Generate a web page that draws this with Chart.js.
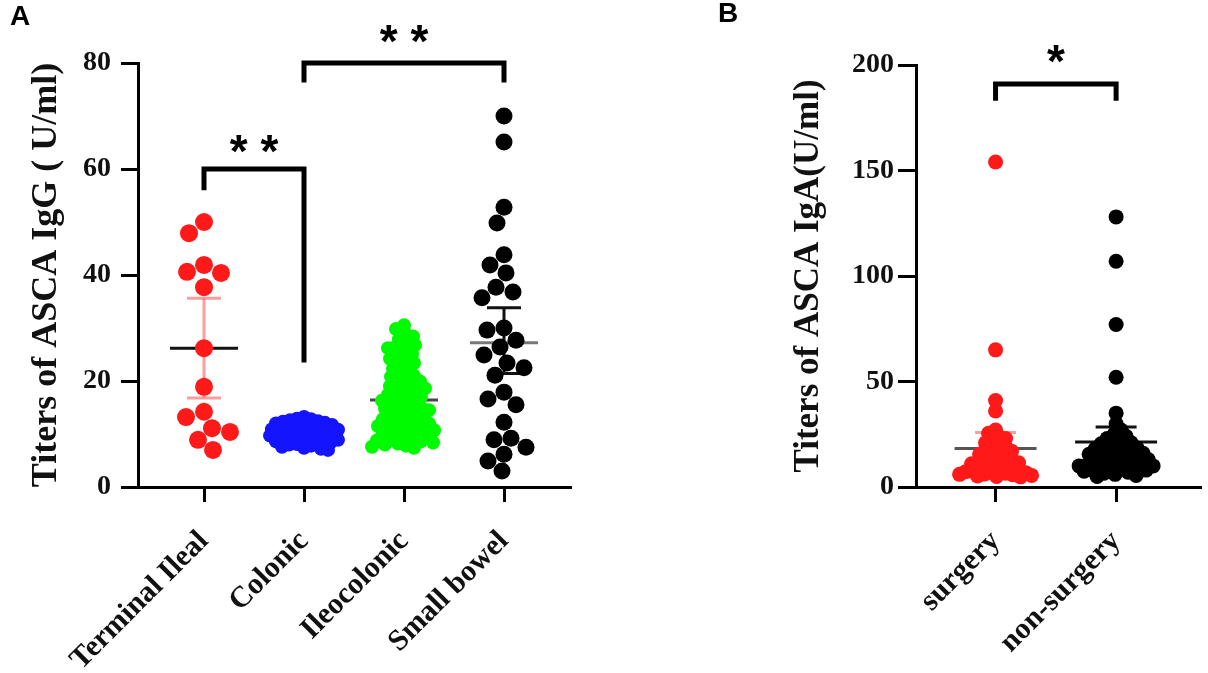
<!DOCTYPE html>
<html>
<head>
<meta charset="utf-8">
<script src="https://cdn.jsdelivr.net/npm/chart.js@4.4.1/dist/chart.umd.min.js"></script>
<style>
  html, body { margin: 0; padding: 0; background: #fff; }
  #wrap { position: relative; width: 1208px; height: 673px; overflow: hidden; }
  canvas { position: absolute; top: 0; }
  #chartA { left: 0; }
  #chartB { left: 600px; }
  .panel { position: absolute; font: bold 28px "Liberation Sans", Arial, sans-serif; color: #000; }
</style>
</head>
<body>
<div id="wrap">
  <canvas id="chartA" width="600" height="673"></canvas>
  <canvas id="chartB" width="608" height="673"></canvas>
  <div class="panel" style="left:10px; top:0px">A</div>
  <div class="panel" style="left:718px; top:-3px">B</div>
</div>
<script>
// values, panel A (ASCA IgG by location)
const groupsA = ['Terminal Ileal', 'Colonic', 'Ileocolonic', 'Small bowel'];
const terminalIleal = [50.0, 47.9, 41.9, 40.6, 40.4, 37.7, 26.2, 18.9, 14.2, 13.2, 11.1, 10.4, 8.9, 7.0];
const colonic = [13.2, 12.9, 12.8, 12.6, 12.4, 12.3, 12.1, 12.0, 11.8, 11.7, 11.5, 11.4, 11.2, 11.1, 11.0,
  10.9, 10.8, 10.6, 10.5, 10.4, 10.3, 10.2, 10.1, 10.0, 9.9, 9.8, 9.7, 9.5, 9.4, 9.3, 9.2, 9.0, 8.9, 8.8,
  8.6, 8.5, 8.3, 8.1, 8.0, 7.8, 7.6, 7.4, 7.2, 7.0];
const ileocolonic = [30.5, 29.8, 29.0, 28.4, 27.9, 27.3, 26.8, 26.5, 26.2, 25.6, 25.0, 24.5, 24.2, 24.0,
  23.4, 22.8, 22.3, 21.8, 21.3, 21.0, 20.8, 20.3, 19.9, 19.5, 19.2, 19.0, 18.6, 18.2, 18.0, 17.8, 17.4,
  17.0, 16.8, 16.6, 16.3, 15.9, 15.5, 15.2, 15.0, 14.8, 14.5, 14.1, 13.8, 13.5, 13.3, 13.1, 12.8, 12.5,
  12.2, 12.0, 11.9, 11.6, 11.5, 11.3, 11.0, 10.7, 10.5, 10.4, 10.1, 9.9, 9.6, 9.3, 9.1, 9.0, 8.8, 8.6,
  8.4, 8.2, 8.0, 7.8, 7.6, 7.4];
const smallBowel = [70.0, 65.1, 52.8, 49.8, 43.8, 41.9, 40.4, 37.7, 36.8, 35.7, 30.0, 29.6, 27.7, 26.4,
  24.9, 23.4, 22.5, 21.1, 17.9, 16.6, 15.5, 12.2, 9.2, 8.9, 7.5, 6.2, 4.9, 3.0];
const meanA = [26.2, 10.4, 16.4, 27.2];
const errLowA = [16.8, 9.6, 14.6, 21.4];
const errHighA = [35.6, 11.2, 18.2, 33.8];
const ticksA = [0, 20, 40, 60, 80];

// panel B (ASCA IgA, surgery vs non-surgery)
const groupsB = ['surgery', 'non-surgery'];
const surgery = [154, 65, 41, 36, 27, 25.5, 24, 23, 22, 21, 20, 19, 18, 17.5, 17, 16, 15.5, 15, 14, 13.5,
  13, 12.5, 12, 11.5, 11, 10.5, 10, 9.5, 9, 8.5, 8, 7.8, 7.5, 7.2, 7, 6.8, 6.5, 6.2, 6, 5.8, 5.5, 5.2, 5, 4.8];
const nonSurgery = [128, 107, 77, 52, 35, 30, 27, 25, 24, 23, 22, 21, 20.5, 20, 19, 18.5, 18, 17.5, 17,
  16.5, 16, 15.5, 15, 14.5, 14, 13.5, 13, 12.5, 12, 11.5, 11, 11, 10.5, 10, 10, 9.5, 9, 9, 8.5, 8, 8, 7.5,
  7, 6.5, 6, 5.5, 5];
const meanB = [18.2, 21.3];
const errLowB = [10.6, 14.2];
const errHighB = [25.8, 28.4];
const ticksB = [0, 50, 100, 150, 200];

// significance brackets (data units)
const bracketsA = [
  { from: 1, to: 2, top: 60, leftEnd: 56.0, rightEnd: 23.5, text: '* *', textY: 64.8 },
  { from: 2, to: 4, top: 80, leftEnd: 76.3, rightEnd: 76.3, text: '* *', textY: 85.4 }
];
const bracketsB = [
  { from: 1, to: 2, top: 191, leftEnd: 183, rightEnd: 183, text: '*', textY: 205 }
];

const SERIF = '"Liberation Serif", "Times New Roman", serif';

function strokeLine(ctx, x1, y1, x2, y2) {
  ctx.beginPath();
  ctx.moveTo(x1, y1);
  ctx.lineTo(x2, y2);
  ctx.stroke();
}

// mean line + error bar under the dots
function meanErrPlugin(means, lows, highs, styles) {
  return {
    id: 'meanErr',
    beforeDatasetsDraw(chart) {
      const ctx = chart.ctx, xs = chart.scales.x, ys = chart.scales.y;
      means.forEach((m, i) => {
        const c = i + 1, st = styles[i];
        const cx = xs.getPixelForValue(c);
        ctx.save();
        ctx.lineWidth = 3;
        ctx.strokeStyle = st.err;
        strokeLine(ctx, cx, ys.getPixelForValue(lows[i]), cx, ys.getPixelForValue(highs[i]));
        [lows[i], highs[i]].forEach(v => {
          const py = ys.getPixelForValue(v);
          strokeLine(ctx, xs.getPixelForValue(c - 0.17), py, xs.getPixelForValue(c + 0.17), py);
        });
        ctx.strokeStyle = st.mean;
        const my = ys.getPixelForValue(m);
        strokeLine(ctx, xs.getPixelForValue(c - 0.34), my, xs.getPixelForValue(c + 0.34), my);
        ctx.restore();
      });
    }
  };
}

function bracketPlugin(brackets, starSize) {
  return {
    id: 'brackets',
    afterDraw(chart) {
      const ctx = chart.ctx, xs = chart.scales.x, ys = chart.scales.y;
      brackets.forEach(b => {
        const x1 = xs.getPixelForValue(b.from), x2 = xs.getPixelForValue(b.to);
        const yt = ys.getPixelForValue(b.top);
        ctx.save();
        ctx.strokeStyle = '#000';
        ctx.lineWidth = 5;
        ctx.lineCap = 'butt';
        ctx.lineJoin = 'miter';
        ctx.beginPath();
        ctx.moveTo(x1, ys.getPixelForValue(b.leftEnd));
        ctx.lineTo(x1, yt);
        ctx.lineTo(x2, yt);
        ctx.lineTo(x2, ys.getPixelForValue(b.rightEnd));
        ctx.stroke();
        ctx.fillStyle = '#000';
        ctx.font = 'bold ' + starSize + 'px "Liberation Sans", Arial, sans-serif';
        ctx.textAlign = 'center';
        ctx.textBaseline = 'alphabetic';
        const m = ctx.measureText(b.text);
        const cy = ys.getPixelForValue(b.textY);
        ctx.fillText(b.text, (x1 + x2) / 2, cy + (m.actualBoundingBoxAscent - m.actualBoundingBoxDescent) / 2);
        ctx.restore();
      });
    }
  };
}

// spread the dots sideways so they don't pile up (beeswarm-ish)
function swarm(chart, dsIndex, minDist, maxHalf) {
  const xs = chart.scales.x, ys = chart.scales.y;
  const ds = chart.data.datasets[dsIndex];
  const cx = xs.getPixelForValue(dsIndex + 1);
  const placed = [];
  ds.data.forEach((pt, n) => {
    const py = ys.getPixelForValue(pt.y);
    const dir = n % 2 ? -1 : 1;
    let best = 0, bestScore = -1;
    for (let k = 0; k <= 2 * maxHalf; k++) {
      const off = dir * (k % 2 ? 1 : -1) * Math.ceil(k / 2);
      let m = Infinity;
      for (const p of placed) {
        const d = Math.hypot(p[0] - off, p[1] - py);
        if (d < m) m = d;
      }
      if (m >= minDist) { best = off; break; }
      if (m > bestScore) { bestScore = m; best = off; }
    }
    placed.push([best, py]);
    pt.x = xs.getValueForPixel(cx + best);
  });
}

function dotSet(values, cat, color, r) {
  return {
    data: values.map(v => ({ x: cat, y: v })),
    backgroundColor: color,
    borderWidth: 0,
    pointRadius: r,
    pointHoverRadius: r,
    clip: false
  };
}

function axisOpts(cfg) {
  return {
    x: {
      type: 'linear', min: 0.34, max: cfg.xMax,
      afterBuildTicks: s => { s.ticks = cfg.groups.map((g, i) => ({ value: i + 1 })); },
      afterFit: s => { s.height = 186; },
      ticks: {
        autoSkip: false, minRotation: 45, maxRotation: 45, padding: 22, color: '#111',
        font: { family: SERIF, size: 30, weight: 'bold' },
        callback: v => cfg.groups[v - 1]
      },
      grid: { drawOnChartArea: false, drawTicks: true, tickLength: 15, color: '#000', lineWidth: 3 },
      border: { color: '#000', width: 3 }
    },
    y: {
      min: 0, max: cfg.ticks[cfg.ticks.length - 1],
      afterBuildTicks: s => { s.ticks = cfg.ticks.map(v => ({ value: v })); },
      afterFit: s => { s.width = cfg.yWidth; },
      ticks: { padding: cfg.tickPad, color: '#111', font: { family: SERIF, size: 28, weight: 'bold' } },
      grid: { drawOnChartArea: false, drawTicks: true, tickLength: cfg.tickLen, color: '#000', lineWidth: 3 },
      border: { color: '#000', width: 3 },
      title: {
        display: true, text: cfg.title, color: '#111',
        font: { family: SERIF, size: cfg.titleSize, weight: 'bold' },
        padding: { top: 25, bottom: 0 }
      }
    }
  };
}

const chartA = new Chart(document.getElementById('chartA'), {
  type: 'scatter',
  data: {
    datasets: [
      dotSet(terminalIleal, 1, 'rgb(255,25,25)', 9),
      dotSet(colonic, 2, 'rgb(20,20,255)', 7),
      dotSet(ileocolonic, 3, 'rgb(0,250,0)', 7),
      dotSet(smallBowel, 4, '#000', 8.5)
    ]
  },
  options: {
    responsive: false,
    animation: false,
    layout: { padding: { top: 63, right: 30, left: 0, bottom: 0 } },
    plugins: { legend: { display: false }, tooltip: { enabled: false } },
    scales: axisOpts({
      groups: groupsA, xMax: 4.66, ticks: ticksA, yWidth: 138, tickPad: 10, tickLen: 17,
      title: 'Titers of ASCA IgG ( U/ml)', titleSize: 36
    })
  },
  plugins: [
    meanErrPlugin(meanA, errLowA, errHighA, [
      { mean: '#111', err: 'rgba(255,90,90,0.6)' },
      { mean: '#333', err: '#333' },
      { mean: 'rgba(40,40,40,0.85)', err: 'rgba(40,40,40,0.85)' },
      { mean: '#777', err: '#111' }
    ]),
    bracketPlugin(bracketsA, 46)
  ]
});

const chartB = new Chart(document.getElementById('chartB'), {
  type: 'scatter',
  data: {
    datasets: [
      dotSet(surgery, 1, 'rgb(255,25,25)', 7.5),
      dotSet(nonSurgery, 2, '#000', 7.5)
    ]
  },
  options: {
    responsive: false,
    animation: false,
    layout: { padding: { top: 65, right: 2, left: 163, bottom: 0 } },
    plugins: { legend: { display: false }, tooltip: { enabled: false } },
    scales: axisOpts({
      groups: groupsB, xMax: 2.7, ticks: ticksB, yWidth: 153, tickPad: 4, tickLen: 18,
      title: 'Titers of ASCA IgA(U/ml)', titleSize: 35
    })
  },
  plugins: [
    meanErrPlugin(meanB, errLowB, errHighB, [
      { mean: '#555', err: 'rgba(255,90,90,0.6)' },
      { mean: '#111', err: '#111' }
    ]),
    bracketPlugin(bracketsB, 46)
  ]
});

swarm(chartA, 0, 18, 40);
swarm(chartA, 1, 7, 34);
swarm(chartA, 2, 8, 34);
swarm(chartA, 3, 17, 40);
chartA.update('none');

swarm(chartB, 0, 7, 36);
swarm(chartB, 1, 7.5, 38);
chartB.update('none');
</script>
</body>
</html>
